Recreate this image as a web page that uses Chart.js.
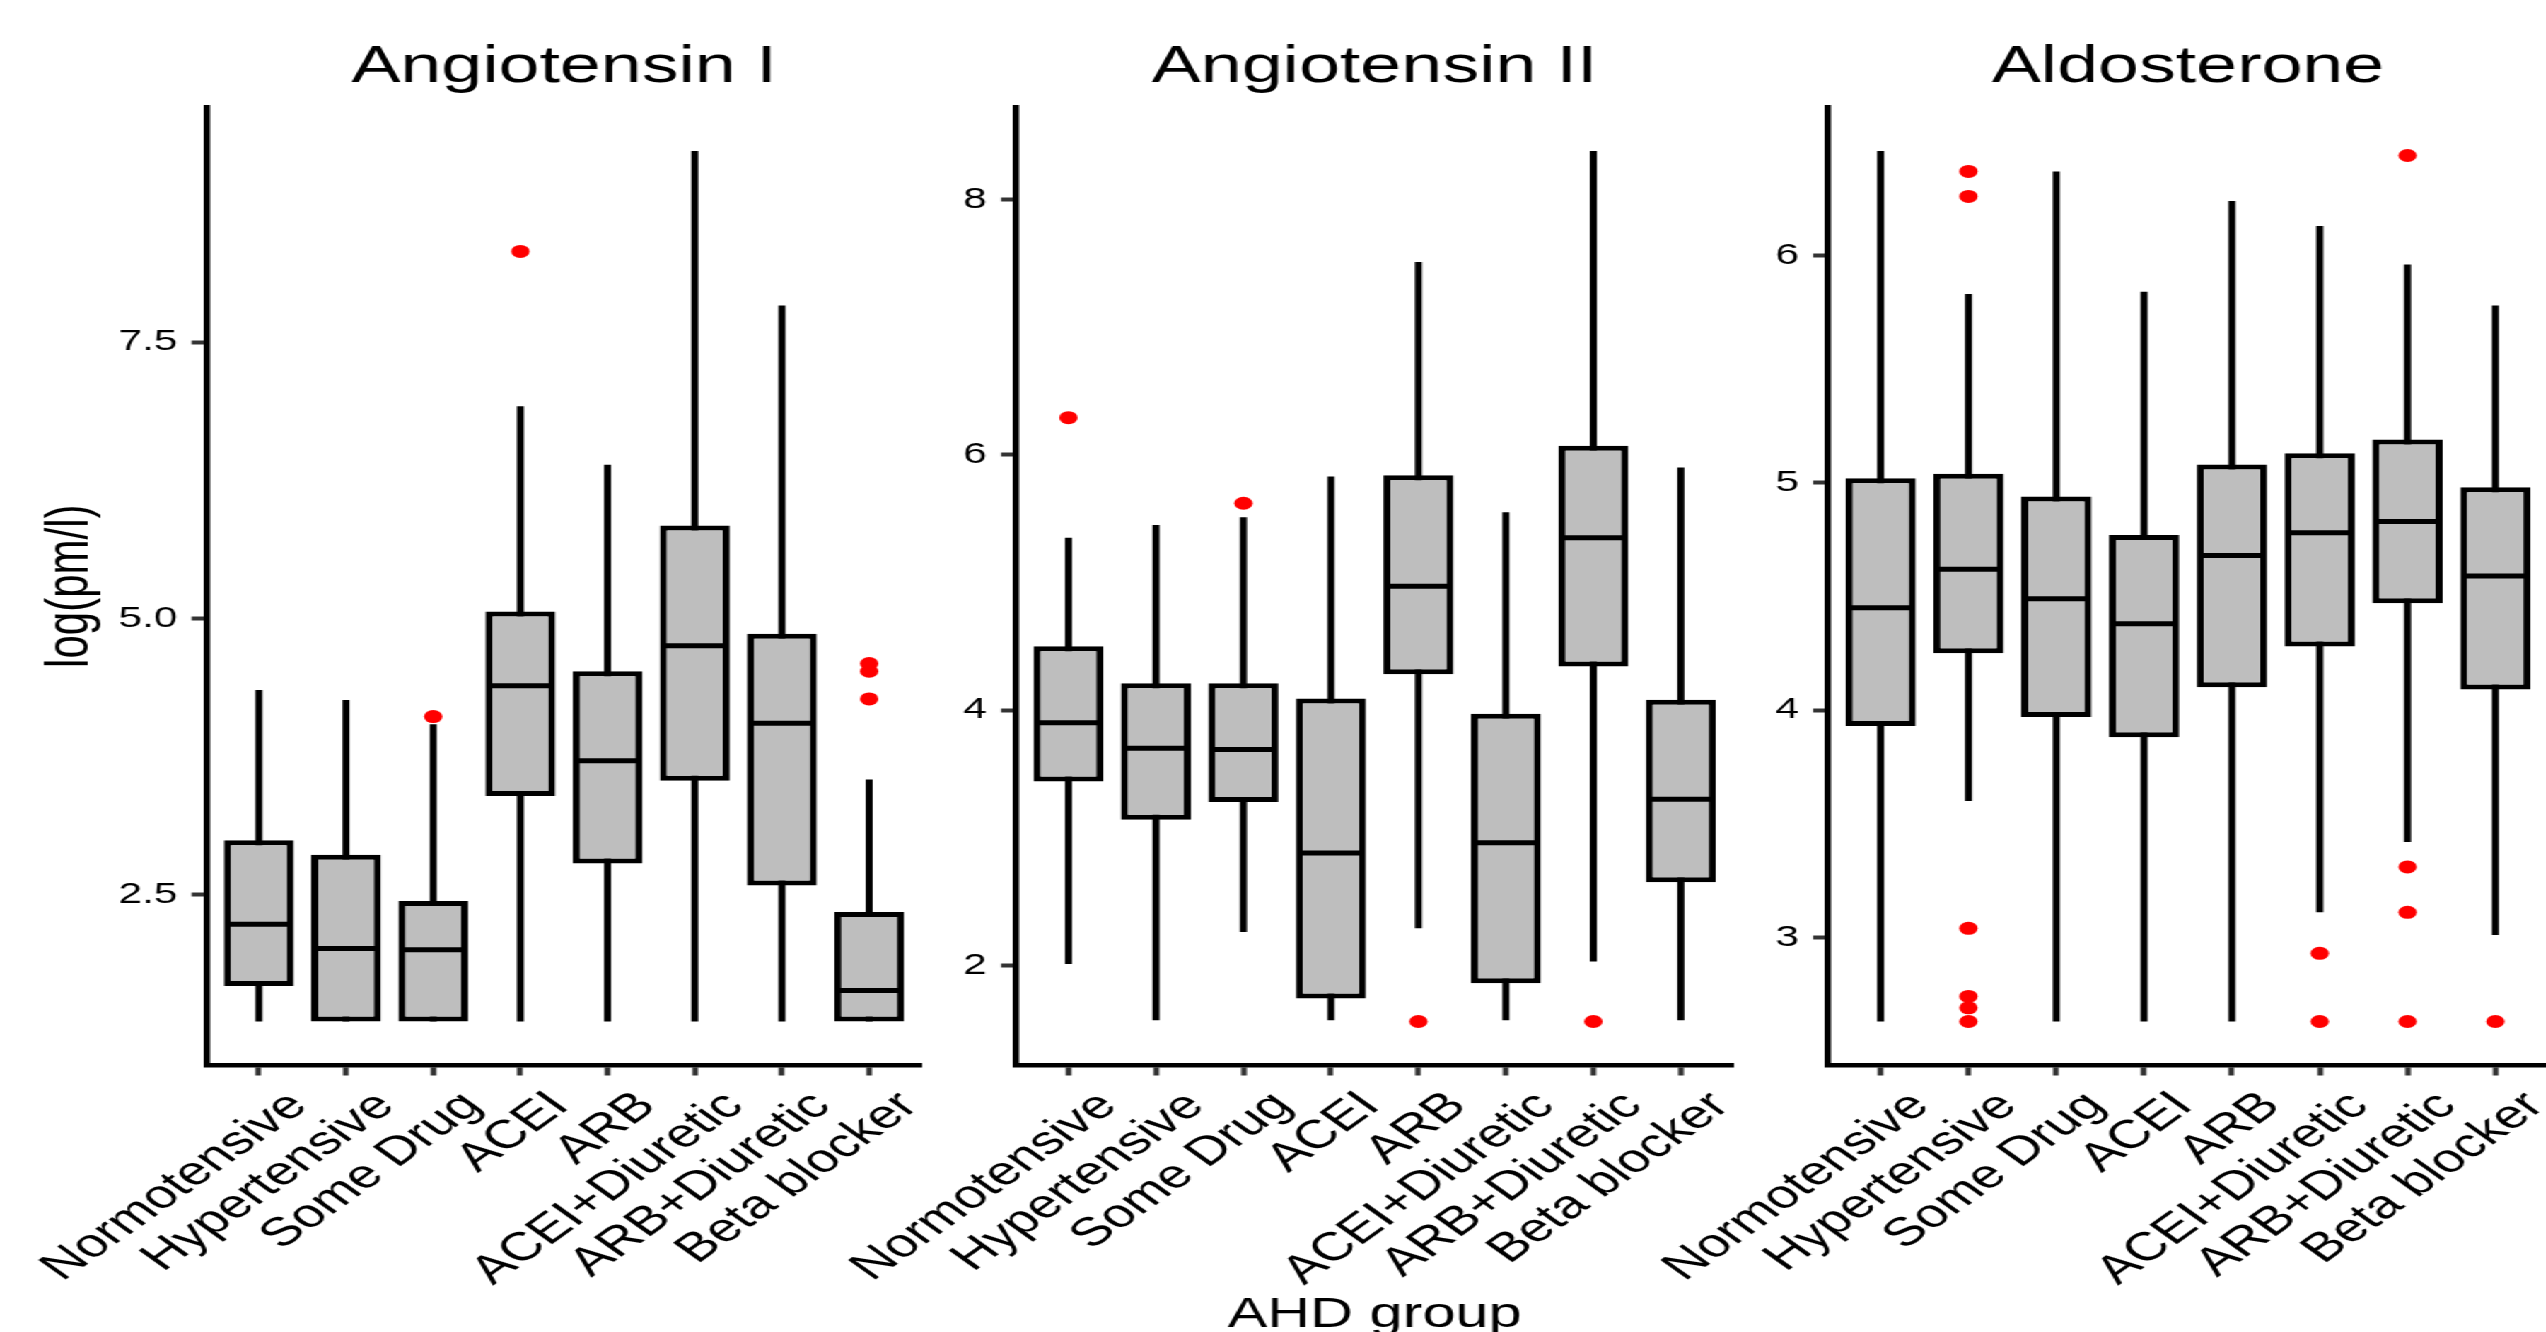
<!DOCTYPE html>
<html>
<head>
<meta charset="utf-8">
<script src="https://cdn.jsdelivr.net/npm/chart.js@4.4.1/dist/chart.umd.min.js"></script>
<style>
  body { margin: 0; overflow: hidden; background: #fff; }
  #wrap { position: relative; width: 1800px; height: 1332px; transform: scaleX(1.4144); transform-origin: 0 0; }
  canvas { position: absolute; top: 0; }
</style>
</head>
<body>
<div id="wrap">
  <canvas id="c1" width="658" height="1332" style="left:0px"></canvas>
  <canvas id="c2" width="832" height="1332" style="left:400px"></canvas>
  <canvas id="c3" width="836" height="1332" style="left:972px"></canvas>
</div>
<script>
// box plot of log(pm/l) by AHD group, three hormones

const groups = ['Normotensive', 'Hypertensive', 'Some Drug', 'ACEI', 'ARB', 'ACEI+Diuretic', 'ARB+Diuretic', 'Beta blocker'];

// Angiotensin I
const angIMin = [1.35, 1.35, 1.35, 1.35, 1.35, 1.35, 1.35, 1.35];
const angIQ1  = [1.67, 1.35, 1.35, 3.39, 2.78, 3.53, 2.58, 1.35];
const angIMed = [2.23, 2.01, 2.00, 4.39, 3.71, 4.75, 4.05, 1.63];
const angIQ3  = [2.99, 2.86, 2.44, 5.06, 4.52, 5.84, 4.86, 2.34];
const angIMax = [4.35, 4.26, 4.04, 6.92, 6.39, 9.23, 7.83, 3.54];
const angIOut = [[], [], [4.11], [8.32], [], [], [], [4.59, 4.52, 4.27]];
const angITicks = [2.5, 5.0, 7.5];

// Angiotensin II
const angIIMin = [2.01, 1.57, 2.26, 1.57, 2.29, 1.57, 2.03, 1.57];
const angIIQ1  = [3.44, 3.14, 3.28, 1.74, 4.28, 1.86, 4.34, 2.65];
const angIIMed = [3.90, 3.70, 3.69, 2.88, 4.97, 2.96, 5.35, 3.30];
const angIIQ3  = [4.50, 4.21, 4.21, 4.09, 5.84, 3.97, 6.07, 4.08];
const angIIMax = [5.35, 5.45, 5.51, 5.83, 7.51, 5.55, 8.38, 5.90];
const angIIOut = [[6.29], [], [5.62], [], [1.56], [], [1.56], []];
const angIITicks = [2, 4, 6, 8];

// Aldosterone
const aldoMin = [2.63, 3.60, 2.63, 2.63, 2.63, 3.11, 3.42, 3.01];
const aldoQ1  = [3.93, 4.25, 3.97, 3.88, 4.10, 4.28, 4.47, 4.09];
const aldoMed = [4.45, 4.62, 4.49, 4.38, 4.68, 4.78, 4.83, 4.59];
const aldoQ3  = [5.02, 5.04, 4.94, 4.77, 5.08, 5.13, 5.19, 4.98];
const aldoMax = [6.46, 5.83, 6.37, 5.84, 6.24, 6.13, 5.96, 5.78];
const aldoOut = [[], [6.37, 6.26, 3.04, 2.74, 2.69, 2.63], [], [], [], [2.93, 2.63], [6.44, 3.31, 3.11, 2.63], [2.63]];
const aldoTicks = [3, 4, 5, 6];

const FONT = "'Liberation Sans', Arial, sans-serif";
const LINE_W = 5;

function yRange(mins, maxs, outs) {
    const all = mins.concat(maxs, outs.flat());
    const lo = Math.min(...all);
    const hi = Math.max(...all);
    const pad = (hi - lo) * 0.05;
    return [lo - pad, hi + pad];
}

function makePanel(id, title, mins, q1s, meds, q3s, maxs, outs, yTicks, yWidth, yTitle, xTitle, decimals) {
    const xs = groups.map((g, i) => i + 1);
    const [ymin, ymax] = yRange(mins, maxs, outs);

    const outliers = [];
    outs.forEach((list, i) => list.forEach(v => outliers.push({x: i + 1, y: v})));

    const tickGrid = {
        display: true,
        offset: false,
        drawOnChartArea: false,
        drawTicks: true,
        tickLength: 10.5,
        tickColor: '#333',
        tickWidth: 4
    };
    const axisBorder = {display: true, color: '#000', width: 4.5};

    new Chart(document.getElementById(id), {
        type: 'bar',
        data: {
            datasets: [
                {
                    // whiskers
                    data: xs.map((x, i) => ({x: x, y: [mins[i], maxs[i]]})),
                    backgroundColor: '#000',
                    borderWidth: 0,
                    grouped: false,
                    categoryPercentage: 1,
                    barPercentage: 0.08,
                    maxBarThickness: LINE_W,
                    order: 3
                },
                {
                    // boxes
                    data: xs.map((x, i) => ({x: x, y: [q1s[i], q3s[i]]})),
                    backgroundColor: '#bebebe',
                    borderColor: '#000',
                    borderWidth: LINE_W,
                    borderSkipped: false,
                    grouped: false,
                    categoryPercentage: 1,
                    barPercentage: 0.8,
                    order: 2
                },
                {
                    // medians
                    type: 'line',
                    data: xs.map((x, i) => ({x: x, y: meds[i]})),
                    showLine: false,
                    pointStyle: 'line',
                    pointRadius: (ctx) => {
                        const sc = ctx.chart.scales.x;
                        return (sc.getPixelForValue(2) - sc.getPixelForValue(1)) * 0.4 - 2;
                    },
                    borderColor: '#000',
                    borderWidth: LINE_W,
                    order: 1
                },
                {
                    // outliers
                    type: 'line',
                    data: outliers,
                    showLine: false,
                    pointRadius: 6.5,
                    pointBackgroundColor: '#ff0000',
                    pointBorderWidth: 0,
                    borderColor: '#ff0000',
                    order: 0
                }
            ]
        },
        options: {
            responsive: false,
            animation: false,
            events: [],
            layout: {padding: 0},
            plugins: {
                legend: {display: false},
                tooltip: {enabled: false},
                title: {
                    display: true,
                    text: title,
                    fullSize: false,
                    color: '#000',
                    font: {family: FONT, size: 52, weight: 'normal'},
                    padding: {top: 36, bottom: 9}
                }
            },
            scales: {
                x: {
                    type: 'linear',
                    min: 0.4,
                    max: 8.6,
                    bounds: 'data',
                    offset: false,
                    afterBuildTicks: (ax) => { ax.ticks = xs.map(v => ({value: v})); },
                    afterFit: (ax) => { ax.height = 267; ax.paddingLeft = 0; ax.paddingRight = 0; },
                    grid: tickGrid,
                    border: axisBorder,
                    ticks: {
                        autoSkip: false,
                        minRotation: 45,
                        maxRotation: 45,
                        padding: 7,
                        labelOffset: 28,
                        color: '#000',
                        font: {family: FONT, size: 40},
                        callback: (v) => groups[v - 1] || ''
                    },
                    title: {
                        display: !!xTitle,
                        text: xTitle,
                        color: '#000',
                        font: {family: FONT, size: 42, lineHeight: 0.8},
                        padding: 0
                    }
                },
                y: {
                    type: 'linear',
                    min: ymin,
                    max: ymax,
                    bounds: 'data',
                    afterBuildTicks: (ax) => { ax.ticks = yTicks.map(v => ({value: v})); },
                    afterFit: (ax) => { ax.width = yWidth; },
                    grid: tickGrid,
                    border: axisBorder,
                    ticks: {
                        padding: 10,
                        color: '#000',
                        font: {family: FONT, size: 30},
                        callback: (v) => v.toFixed(decimals)
                    },
                    title: {
                        display: !!yTitle,
                        text: yTitle,
                        color: '#000',
                        font: {family: FONT, size: 42},
                        padding: {top: 25, bottom: 0}
                    }
                }
            }
        }
    });
}

makePanel('c1', 'Angiotensin I', angIMin, angIQ1, angIMed, angIQ3, angIMax, angIOut, angITicks, 146, 'log(pm/l)', '', 1);
makePanel('c2', 'Angiotensin II', angIIMin, angIIQ1, angIIMed, angIIQ3, angIIMax, angIIOut, angIITicks, 318.3, '', 'AHD group', 0);
makePanel('c3', 'Aldosterone', aldoMin, aldoQ1, aldoMed, aldoQ3, aldoMax, aldoOut, aldoTicks, 320.4, '', '', 0);
</script>
</body>
</html>
